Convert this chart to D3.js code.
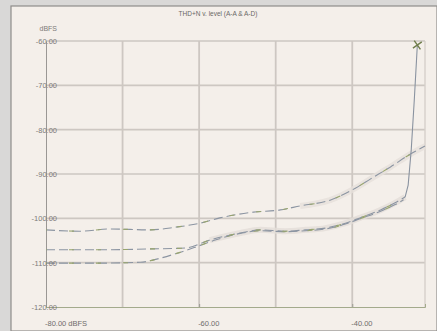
<!DOCTYPE html>
<html>
<head>
<meta charset="utf-8">
<script src="https://cdn.jsdelivr.net/npm/d3@7"></script>
<style>
  html, body { margin: 0; padding: 0; background: #d9d8d7; }
  svg { display: block; }
  text { font-family: "Liberation Sans", Arial, sans-serif; }
</style>
</head>
<body>
<svg id="chart" width="437" height="331"></svg>
<script>
// THD+N versus input level, two converter paths
const title = "THD+N v. level (A-A & A-D)";
const yUnit = "dBFS";
const xTicks = [-80, -60, -40];
const xTickLabels = ["-80.00 dBFS", "-60.00", "-40.00"];
const xGrid = [-70, -60, -50, -40];
const yTicks = [-60, -70, -80, -90, -100, -110, -120];
const yTickLabels = ["-60.00", "-70.00", "-80.00", "-90.00", "-100.00", "-110.00", "-120.00"];

// input level (dBFS) and THD+N (dB)
const upperLevel = [-80, -75.6, -71.6, -66.4, -63.1, -59.9, -57.3, -52.9, -49.4, -46.8, -42.9, -39.6, -37.6, -35.0, -32.4, -30.5];
const upperThd   = [-102.6, -102.9, -102.4, -102.6, -102.0, -101.1, -99.9, -98.6, -98.1, -97.2, -95.9, -93.2, -91.1, -88.4, -85.5, -83.7];

const middleLevel = [-80, -72.9, -66.4, -61.8, -58.6, -54.6, -52.0, -48.8, -46.1, -43.5, -40.9, -39.0, -36.3, -34.4, -33.1, -32.7, -32.3, -31.9, -31.5];
const middleThd   = [-107.1, -107.1, -106.9, -106.7, -104.9, -103.3, -102.6, -102.9, -102.6, -102.2, -101.1, -99.9, -98.1, -96.5, -95.2, -92.5, -84.6, -73.3, -60.9];

const lowerLevel = [-80, -72.9, -67.7, -65.1, -63.1, -60.5, -57.9, -54.6, -52.0, -48.8, -46.1, -43.5, -40.9, -39.0, -36.3, -34.4, -33.3];
const lowerThd   = [-110.1, -110.1, -109.9, -109.0, -108.0, -106.5, -104.9, -103.4, -102.8, -103.0, -102.8, -102.4, -101.3, -100.1, -98.4, -96.9, -95.8];

const svg = d3.select("#chart");
const W = 437, H = 331;
const plot = { left: 46, right: 425, top: 41, bottom: 307 };

// paper frame
svg.append("rect").attr("x", 11).attr("y", 6).attr("width", W - 11).attr("height", H - 6)
  .attr("fill", "#f4efea").attr("stroke", "#8e8c8a").attr("stroke-width", 1.2);

const x = d3.scaleLinear().domain([-80, -30.5]).range([plot.left, plot.right]);
const y = d3.scaleLinear().domain([-60, -120]).range([plot.top, plot.bottom]);

const blur = svg.append("defs").append("filter").attr("id", "soft")
  .attr("x", "-5%").attr("y", "-5%").attr("width", "110%").attr("height", "110%");
blur.append("feGaussianBlur").attr("stdDeviation", 0.6);

const g = svg.append("g").attr("filter", "url(#soft)");

// horizontal grid
g.append("g")
  .selectAll("line").data(yTicks.filter(v => v !== -120)).join("line")
  .attr("x1", plot.left).attr("x2", plot.right)
  .attr("y1", d => y(d)).attr("y2", d => y(d))
  .attr("stroke", "#cdc7c2").attr("stroke-width", 1.6);

// vertical grid
g.append("g")
  .selectAll("line").data(xGrid).join("line")
  .attr("x1", d => x(d)).attr("x2", d => x(d))
  .attr("y1", plot.top).attr("y2", plot.bottom)
  .attr("stroke", "#cdc7c2").attr("stroke-width", 1.8);

g.append("line")
  .attr("x1", plot.right).attr("x2", plot.right)
  .attr("y1", plot.top).attr("y2", plot.bottom)
  .attr("stroke", "#d6d0cb").attr("stroke-width", 1.4);

// y axis
const yAxis = d3.axisLeft(y).tickValues(yTicks).tickSize(0).tickFormat("");
g.append("g").attr("transform", `translate(${plot.left},0)`).call(yAxis)
  .call(a => a.select(".domain").attr("stroke", "#9a9794").attr("stroke-width", 1));

// x axis
const xAxis = d3.axisBottom(x).tickValues(xTicks).tickSize(-3).tickFormat("");
g.append("g").attr("transform", `translate(0,${plot.bottom})`).call(xAxis)
  .call(a => a.select(".domain").attr("stroke", "#a3aa8c").attr("stroke-width", 1))
  .call(a => a.selectAll(".tick line").attr("stroke", "#9a9a90"));

// tick labels
svg.append("g").selectAll("text").data(yTicks).join("text")
  .attr("x", 57).attr("y", d => y(d) + 3)
  .attr("text-anchor", "end").attr("font-size", 7.5).attr("fill", "#7c7a78")
  .text((d, i) => yTickLabels[i]);

svg.append("text").attr("x", 57).attr("y", 31).attr("text-anchor", "end")
  .attr("font-size", 7).attr("fill", "#7c7a78").text(yUnit);

svg.append("g").selectAll("text").data(xTicks).join("text")
  .attr("x", d => x(d) - 1).attr("y", 326)
  .attr("text-anchor", "start").attr("font-size", 7.5).attr("fill", "#6f6d6b")
  .text((d, i) => xTickLabels[i]);

svg.append("text").attr("x", 218).attr("y", 16).attr("text-anchor", "middle")
  .attr("font-size", 6.5).attr("fill", "#6a6866").text(title);

// curves
const line = d3.line().x(d => x(d[0])).y(d => y(d[1])).curve(d3.curveMonotoneX);
const lineFree = d3.line().x(d => x(d[0])).y(d => y(d[1]));
const upper = d3.zip(upperLevel, upperThd);
const middle = d3.zip(middleLevel, middleThd);
const lower = d3.zip(lowerLevel, lowerThd);

// pale smear along the rising section
g.append("path").datum(middle.slice(4, 15)).attr("d", line)
  .attr("fill", "none").attr("stroke", "#e3ddd8").attr("stroke-width", 6).attr("opacity", 0.8);
g.append("path").datum(upper.slice(9)).attr("d", line)
  .attr("fill", "none").attr("stroke", "#e6e0db").attr("stroke-width", 6).attr("opacity", 0.8);

function trace(data, gen) {
  g.append("path").datum(data).attr("d", gen)
    .attr("fill", "none").attr("stroke", "#8c95a2").attr("stroke-width", 1.1)
    .attr("stroke-dasharray", "9,4");
  g.append("path").datum(data).attr("d", gen)
    .attr("fill", "none").attr("stroke", "#98a56e").attr("stroke-width", 1.1)
    .attr("stroke-dasharray", "5,22").attr("stroke-dashoffset", 4);
}
trace(upper, line);
trace(lower, line);
trace(middle.slice(0, 15), line);

// overload rise
g.append("path").datum(middle.slice(14)).attr("d", lineFree)
  .attr("fill", "none").attr("stroke", "#8a93a0").attr("stroke-width", 1.1);

// end marker
const last = middle[middle.length - 1];
g.append("path")
  .attr("d", d3.symbol(d3.symbolX, 40)())
  .attr("transform", `translate(${x(last[0])},${y(last[1])}) rotate(10)`)
  .attr("fill", "none").attr("stroke", "#6f7d4c").attr("stroke-width", 1.4);
</script>
</body>
</html>
